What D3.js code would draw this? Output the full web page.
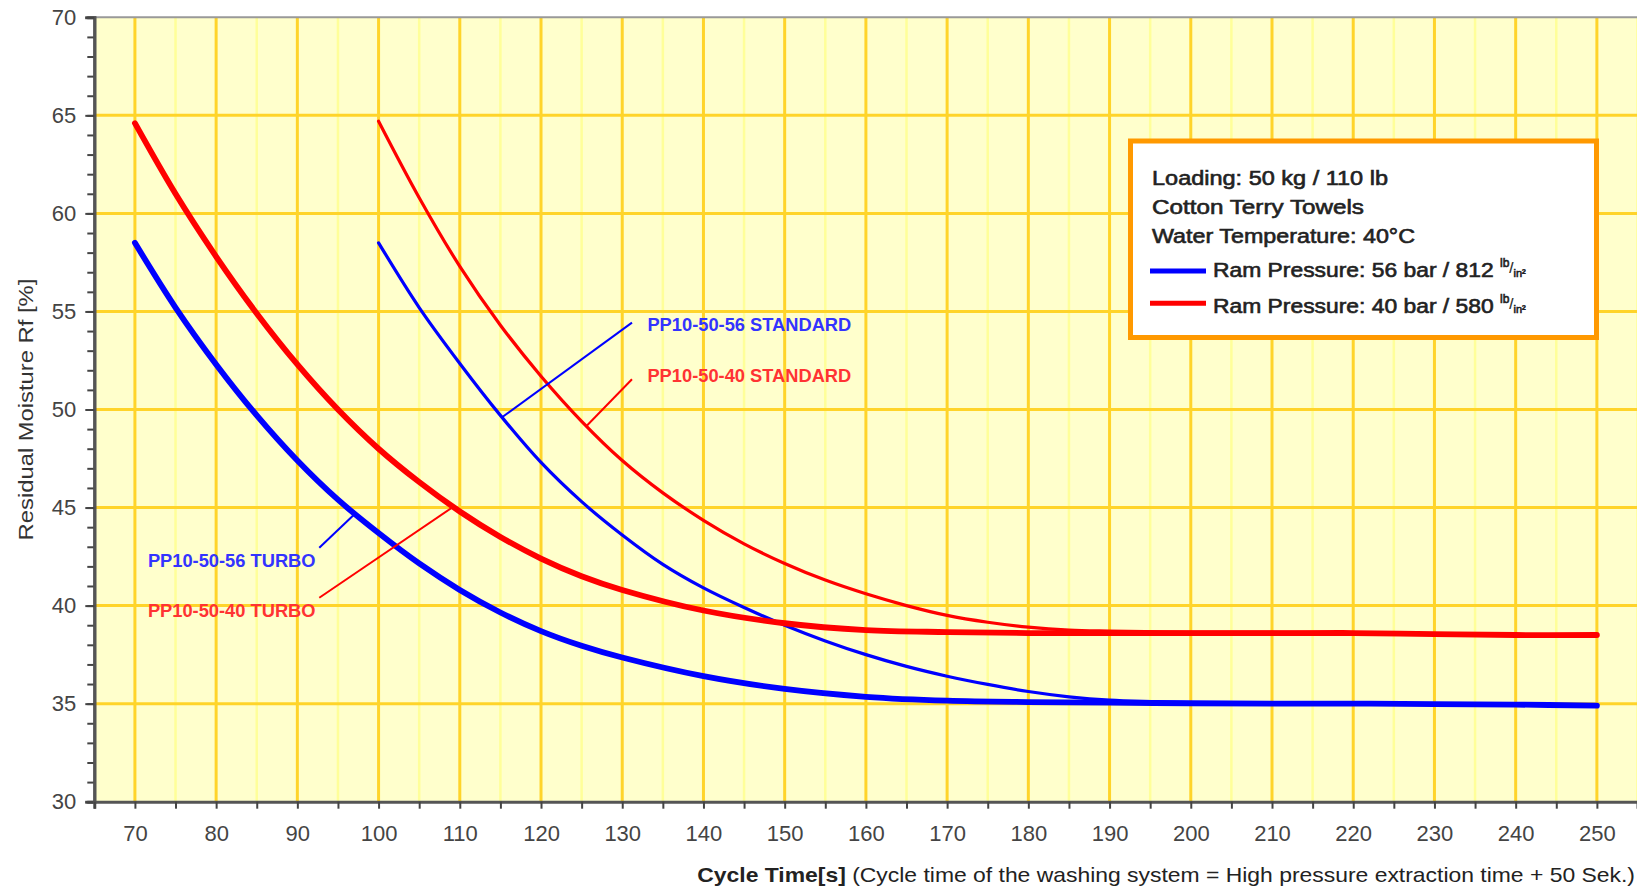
<!DOCTYPE html>
<html>
<head>
<meta charset="utf-8">
<script src="https://cdn.jsdelivr.net/npm/d3@7"></script>
<style>
    body { margin: 0; background: #fff; }
    svg { display: block; font-family: "Liberation Sans", Arial, sans-serif; }
</style>
</head>
<body>
<div class="chart-container"></div>
<script>
/* Residual moisture vs cycle time */

// Data
var xTurbo = [70, 75, 80, 85, 90, 95, 100, 105, 110, 115, 120, 125, 130, 140, 150, 160, 170, 180, 190, 200, 210, 220, 230, 240, 250];
var blueTurbo = [58.5, 55.2, 52.3, 49.7, 47.4, 45.4, 43.7, 42.15, 40.8, 39.65, 38.7, 37.95, 37.35, 36.4, 35.75, 35.35, 35.15, 35.08, 35.05, 35.02, 35.0, 35.0, 34.98, 34.95, 34.9];
var redTurbo = [64.6, 61.0, 57.8, 54.9, 52.3, 50.0, 48.0, 46.3, 44.8, 43.5, 42.4, 41.5, 40.8, 39.75, 39.1, 38.75, 38.65, 38.6, 38.6, 38.6, 38.6, 38.6, 38.55, 38.5, 38.5];

var xStandard = [100, 105, 110, 115, 120, 125, 130, 135, 140, 145, 150, 155, 160, 165, 170, 175, 180, 185, 190, 200, 210, 220, 230, 240, 250];
var blueStandard = [58.5, 55.2, 52.35, 49.7, 47.3, 45.3, 43.6, 42.1, 40.9, 39.9, 39.0, 38.2, 37.5, 36.9, 36.4, 35.98, 35.62, 35.35, 35.18, 35.05, 35.0, 35.0, 34.98, 34.95, 34.9];
var redStandard = [64.7, 60.8, 57.3, 54.3, 51.7, 49.4, 47.4, 45.75, 44.35, 43.15, 42.15, 41.3, 40.6, 40.0, 39.5, 39.15, 38.9, 38.75, 38.7, 38.65, 38.65, 38.6, 38.55, 38.5, 38.5];

var xTickLabels = d3.range(70, 251, 10);
var yTickLabels = d3.range(30, 71, 5);

var legendInfo = ["Loading: 50 kg / 110 lb", "Cotton Terry Towels", "Water Temperature: 40°C"];
var legendSeries = ["Ram Pressure: 56 bar / 812 ", "Ram Pressure: 40 bar / 580 "];

var colorBlue = "#0000ff";
var colorRed = "#ff0000";

var w = 1637;
var h = 888;

var x = d3.scaleLinear().domain([65, 255]).range([94.3, 1637.5]);
var y = d3.scaleLinear().domain([30, 70]).range([801.7, 17.3]);

var svg = d3.select(".chart-container")
    .append("svg")
    .attr("width", w)
    .attr("height", h);

// Plot background
svg.append("rect")
    .attr("x", x(65))
    .attr("y", y(70))
    .attr("width", x(255) - x(65))
    .attr("height", y(30) - y(70))
    .attr("fill", "#ffffcc");

// Grid
var grid = svg.append("g").attr("class", "grid");
grid.selectAll(".minor-x")
    .data(d3.range(75, 256, 10))
    .enter().append("line")
    .attr("x1", function (d) { return x(d); })
    .attr("x2", function (d) { return x(d); })
    .attr("y1", y(70))
    .attr("y2", y(30))
    .attr("stroke", "#ffff99")
    .attr("stroke-width", 2.5);
grid.selectAll(".major-y")
    .data(d3.range(35, 70, 5))
    .enter().append("line")
    .attr("x1", x(65))
    .attr("x2", x(255))
    .attr("y1", function (d) { return y(d); })
    .attr("y2", function (d) { return y(d); })
    .attr("stroke", "#ffd42a")
    .attr("stroke-width", 3);
grid.selectAll(".major-x")
    .data(xTickLabels)
    .enter().append("line")
    .attr("x1", function (d) { return x(d); })
    .attr("x2", function (d) { return x(d); })
    .attr("y1", y(70))
    .attr("y2", y(30))
    .attr("stroke", "#ffd42a")
    .attr("stroke-width", 3);

// Top border
svg.append("line")
    .attr("x1", x(65)).attr("x2", x(255))
    .attr("y1", y(70)).attr("y2", y(70))
    .attr("stroke", "#999").attr("stroke-width", 2);

// Axes
var yMinor = svg.append("g")
    .attr("transform", "translate(" + x(65) + ",0)")
    .call(d3.axisLeft(y).tickValues(d3.range(30, 71, 1)).tickSize(7).tickFormat(""));
var yMajor = svg.append("g")
    .attr("transform", "translate(" + x(65) + ",0)")
    .call(d3.axisLeft(y).tickValues(yTickLabels).tickSize(9).tickPadding(9));
var xAxis = svg.append("g")
    .attr("transform", "translate(0," + y(30) + ")")
    .call(d3.axisBottom(x).tickValues(d3.range(65, 256, 5)).tickSize(7)
        .tickFormat(function (d) { return (d % 10 === 0 && d >= 70 && d <= 250) ? d : ""; }));

[yMinor, yMajor, xAxis].forEach(function (g) {
    g.select(".domain").attr("stroke", "#555").attr("stroke-width", 3);
    g.selectAll(".tick line").attr("stroke", "#444").attr("stroke-width", 2);
    g.selectAll(".tick text").attr("fill", "#444").attr("font-size", 22)
        .attr("font-family", "'Liberation Sans', Arial, sans-serif");
});
xAxis.selectAll(".tick text").attr("y", 24);

// Curves
var line = d3.line()
    .x(function (d) { return x(d[0]); })
    .y(function (d) { return y(d[1]); })
    .curve(d3.curveCatmullRom.alpha(0.5));

var series = [
    { xs: xStandard, ys: redStandard, color: colorRed, width: 3.2 },
    { xs: xStandard, ys: blueStandard, color: colorBlue, width: 3.2 },
    { xs: xTurbo, ys: redTurbo, color: colorRed, width: 5.8 },
    { xs: xTurbo, ys: blueTurbo, color: colorBlue, width: 5.8 }
];

series.forEach(function (s) {
    svg.append("path")
        .datum(d3.zip(s.xs, s.ys))
        .attr("d", line)
        .attr("fill", "none")
        .attr("stroke", s.color)
        .attr("stroke-width", s.width)
        .attr("stroke-linecap", "round");
});

// value of a series at xv (for leader line ends)
function valueAt(xs, ys, xv) {
    var i = d3.bisectLeft(xs, xv);
    if (i <= 0) return ys[0];
    var t = (xv - xs[i - 1]) / (xs[i] - xs[i - 1]);
    return ys[i - 1] + t * (ys[i] - ys[i - 1]);
}

// Curve labels with leader lines
var annotations = [
    { text: "PP10-50-56 STANDARD", color: "#3333ff", tx: 133.1, ty: 54.0, lx: 131.2, ly: 54.43, xs: xStandard, ys: blueStandard, at: 115.2 },
    { text: "PP10-50-40 STANDARD", color: "#ff3333", tx: 133.1, ty: 51.4, lx: 131.2, ly: 51.54, xs: xStandard, ys: redStandard, at: 125.6 },
    { text: "PP10-50-56 TURBO", color: "#3333ff", tx: 71.6, ty: 41.98, lx: 92.7, ly: 42.95, xs: xTurbo, ys: blueTurbo, at: 97.1 },
    { text: "PP10-50-40 TURBO", color: "#ff3333", tx: 71.6, ty: 39.42, lx: 92.7, ly: 40.4, xs: xTurbo, ys: redTurbo, at: 109.2 }
];

annotations.forEach(function (a) {
    svg.append("line")
        .attr("x1", x(a.lx)).attr("y1", y(a.ly))
        .attr("x2", x(a.at)).attr("y2", y(valueAt(a.xs, a.ys, a.at)))
        .attr("stroke", a.color === "#3333ff" ? colorBlue : colorRed)
        .attr("stroke-width", 2);
    svg.append("text")
        .attr("x", x(a.tx))
        .attr("y", y(a.ty))
        .attr("fill", a.color)
        .attr("font-size", 18.3)
        .attr("font-weight", "bold")
        .text(a.text);
});

// Legend box
var legend = svg.append("g").attr("class", "legend");
legend.append("rect")
    .attr("x", 1130.5)
    .attr("y", 141)
    .attr("width", 466)
    .attr("height", 196.5)
    .attr("fill", "#fff")
    .attr("stroke", "#ff9900")
    .attr("stroke-width", 5);

legend.selectAll(".info")
    .data(legendInfo)
    .enter().append("text")
    .attr("x", 1152)
    .attr("y", function (d, i) { return 185 + i * 29; })
    .attr("fill", "#222")
    .attr("stroke", "#222")
    .attr("stroke-width", 0.6)
    .attr("font-size", 20)
    .attr("textLength", function (d, i) { return [236, 212, 263][i]; })
    .attr("lengthAdjust", "spacingAndGlyphs")
    .text(function (d) { return d; });

legendSeries.forEach(function (d, i) {
    var yy = 271 + i * 32.3;
    var c = i === 0 ? colorBlue : colorRed;
    legend.append("line")
        .attr("x1", 1150).attr("x2", 1206)
        .attr("y1", yy).attr("y2", yy)
        .attr("stroke", c).attr("stroke-width", 5);
    var t = legend.append("text")
        .attr("x", 1213)
        .attr("y", yy + (i === 0 ? 6 : 10))
        .attr("fill", "#222")
        .attr("stroke", "#222")
        .attr("stroke-width", 0.6)
        .attr("font-size", 20);
    t.append("tspan").attr("textLength", 287).attr("lengthAdjust", "spacingAndGlyphs").text(d);
    t.append("tspan").attr("dy", -10).attr("font-size", 12).text("lb");
    t.append("tspan").attr("dy", 6).attr("font-size", 15).attr("stroke-width", 0.2).text("/");
    t.append("tspan").attr("dy", 4).attr("font-size", 11).text("in²");
});

// Y axis title
var yTitle = svg.append("g")
    .attr("transform", "translate(33," + ((y(30) + y(70)) / 2) + ") rotate(-90)");
var yt = yTitle.append("text")
    .attr("text-anchor", "middle")
    .attr("fill", "#333")
    .attr("font-size", 20)
    .text("Residual Moisture Rf [%]");
var ytw = yt.node().getComputedTextLength();
yt.attr("transform", "scale(" + (262 / ytw) + ",1)");

// X axis title
var xTitle = svg.append("g")
    .attr("transform", "translate(1635,882)");
var xt = xTitle.append("text")
    .attr("text-anchor", "end")
    .attr("fill", "#222")
    .attr("font-size", 21);
xt.append("tspan").attr("font-weight", "bold").text("Cycle Time[s]");
xt.append("tspan").text(" (Cycle time of the washing system = High pressure extraction time + 50 Sek.)");
var xtw = xt.node().getComputedTextLength();
xt.attr("transform", "scale(" + (938 / xtw) + ",1)");
</script>
</body>
</html>
